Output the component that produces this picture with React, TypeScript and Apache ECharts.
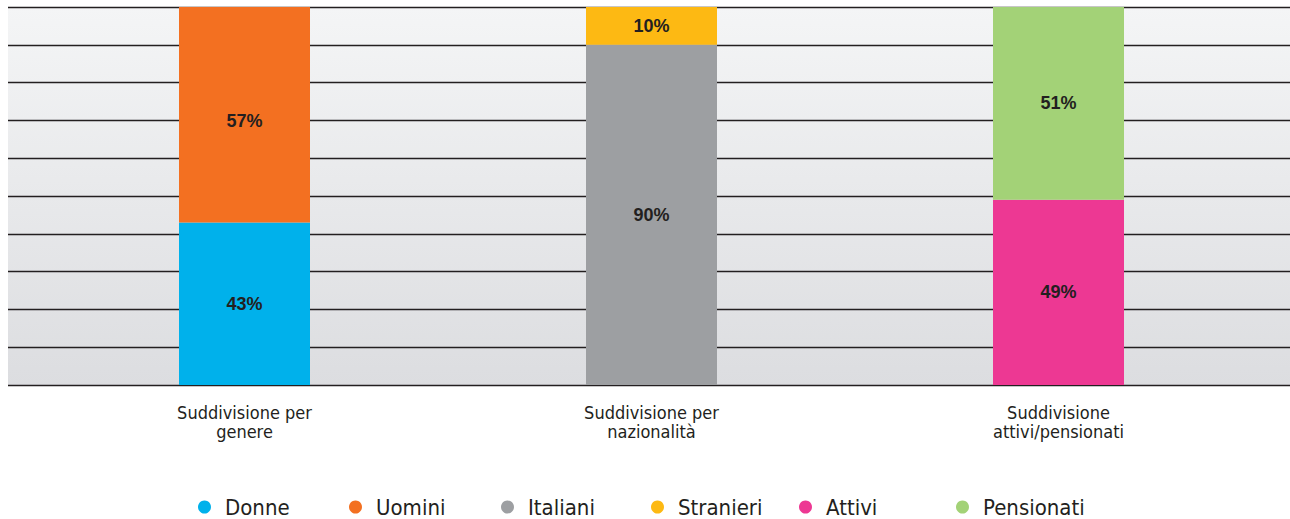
import React, { useEffect, useRef } from "react";
import * as echarts from "echarts";

const categories = ["Suddivisione per\ngenere", "Suddivisione per\nnazionalità", "Suddivisione\nattivi/pensionati"];
const seriesNames = ["Donne", "Uomini", "Italiani", "Stranieri", "Attivi", "Pensionati"];
const donne = [43, "-", "-"];
const uomini = [57, "-", "-"];
const italiani = ["-", 90, "-"];
const stranieri = ["-", 10, "-"];
const attivi = ["-", "-", 49];
const pensionati = ["-", "-", 51];
const seriesValues = [donne, uomini, italiani, stranieri, attivi, pensionati];
const colors = ["#00b1eb", "#f37021", "#9d9fa2", "#fdb913", "#ed3893", "#a3d277"];
const legendLefts = [198, 349, 501, 651, 799, 956];

export default function App() {
  const ref = useRef<HTMLDivElement>(null);
  useEffect(() => {
    const chart = echarts.init(ref.current!, null, { renderer: "svg" });
    const narrow = "'Liberation Sans Narrow', 'DejaVu Sans Condensed', Roboto, sans-serif";
    chart.setOption({
      animation: false,
      backgroundColor: "#ffffff",
      grid: [
        {
          left: 8, right: 0, top: 7, bottom: 134,
          show: true, borderWidth: 0,
          backgroundColor: new echarts.graphic.LinearGradient(0, 0, 0, 1, [
            { offset: 0, color: "#f4f5f6" },
            { offset: 1, color: "#dcdde0" },
          ]),
        },
        { left: 41, right: 28, top: 7, bottom: 134 },
      ],
      xAxis: [
        { type: "value", gridIndex: 0, show: false, min: 0, max: 1 },
        {
          type: "category", gridIndex: 1, data: categories,
          axisLine: { show: false }, axisTick: { show: false },
          axisLabel: { margin: 18, color: "#231f20", fontSize: 18, lineHeight: 19, fontFamily: narrow },
        },
      ],
      yAxis: [
        {
          type: "value", gridIndex: 0, min: 0, max: 100, interval: 10,
          axisLabel: { show: false }, axisLine: { show: false }, axisTick: { show: false },
          splitLine: { show: true, lineStyle: { color: "#231f20", width: 1.3 } },
        },
        { type: "value", gridIndex: 1, min: 0, max: 100, interval: 10, show: false, splitLine: { show: false } },
      ],
      legend: seriesNames.map((name, i) => ({
        top: 496, left: legendLefts[i], padding: 0,
        data: [name],
        icon: "circle", itemWidth: 13, itemHeight: 13,
        textStyle: { fontSize: 22, color: "#231f20", fontFamily: narrow, padding: [0, 0, 0, 9] },
      })),
      series: seriesNames.map((name, i) => ({
        name, type: "bar", stack: "total", xAxisIndex: 1, yAxisIndex: 1,
        barWidth: 131, data: seriesValues[i],
        itemStyle: { color: colors[i] },
        label: {
          show: true, position: "inside", formatter: "{c}%",
          offset: name === "Uomini" ? [0, 6] : [0, 0],
          color: "#231f20", fontWeight: "bold", fontSize: 18,
          fontFamily: "'Liberation Sans', Arial, sans-serif",
        },
      })),
    });
    return () => chart.dispose();
  }, []);
  return <div ref={ref} style={{ position: "absolute", left: 0, top: 0, width: 1290, height: 519 }} />;
}
